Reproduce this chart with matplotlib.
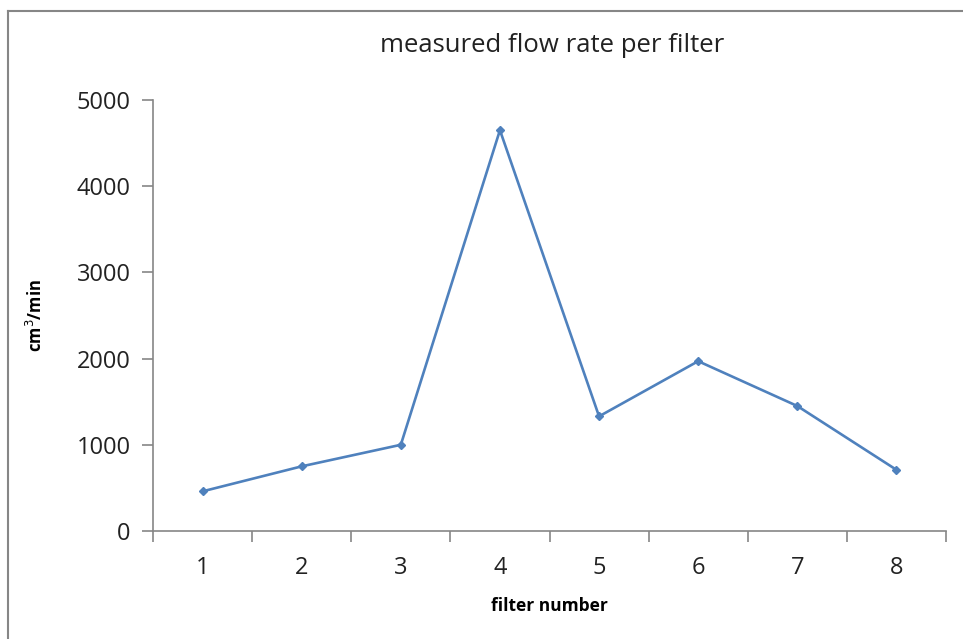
"""
measured flow rate per filter
"""

import numpy as np
from matplotlib import pyplot as plt
from matplotlib.lines import Line2D

filters = [1, 2, 3, 4, 5, 6, 7, 8]
flow_rate = [460, 750, 1000, 4650, 1330, 1970, 1450, 710]
y_ticks = [0, 1000, 2000, 3000, 4000, 5000]

plt.rcParams['font.family'] = ['Open Sans', 'DejaVu Sans']

fig = plt.figure(figsize=(9.63, 6.39), dpi=100)
ax = fig.add_axes([153 / 963, 1 - 531 / 639, (946 - 153) / 963, (531 - 100) / 639])

ax.plot(filters, flow_rate, color="#4F81BD", lw=1.9, marker="D", ms=4.5)

ax.set_xlim(0.5, 8.5)
ax.set_ylim(0, 5000)
ax.set_yticks(y_ticks)

# category axis: ticks between categories, labels centred on them
ax.set_xticks(np.arange(0.5, 9, 1))
ax.set_xticklabels([])
ax.set_xticks(filters, minor=True)
ax.set_xticklabels([str(f) for f in filters], minor=True)
ax.tick_params(axis="x", which="major", length=8, width=1.2, color="#868686", direction="out")
ax.tick_params(axis="x", which="minor", length=0, pad=18, labelsize=17, labelcolor="#222222")
ax.tick_params(axis="y", length=8, width=1.2, color="#868686", direction="out", pad=8,
               labelsize=17, labelcolor="#222222")

for side in ["top", "right"]:
    ax.spines[side].set_visible(False)
for side in ["left", "bottom"]:
    ax.spines[side].set_color("#868686")
    ax.spines[side].set_linewidth(1.2)

ax.set_xlabel("filter number", fontsize=12.5, fontweight="bold", labelpad=12)
ax.set_ylabel("cm$^3$/min", fontsize=12, fontweight="bold", labelpad=22)
fig.text(552 / 963, 1 - 46 / 639, "measured flow rate per filter", fontsize=18.5,
         ha="center", va="center", color="#222222")

# chart border (cropped: only top and left show)
fig.add_artist(Line2D([8 / 963, 8 / 963], [0, 1 - 11 / 639], transform=fig.transFigure,
                      color="#868686", lw=1.5))
fig.add_artist(Line2D([8 / 963, 1], [1 - 11 / 639, 1 - 11 / 639], transform=fig.transFigure,
                      color="#868686", lw=1.5))

fig.savefig("out.png", dpi=100)
